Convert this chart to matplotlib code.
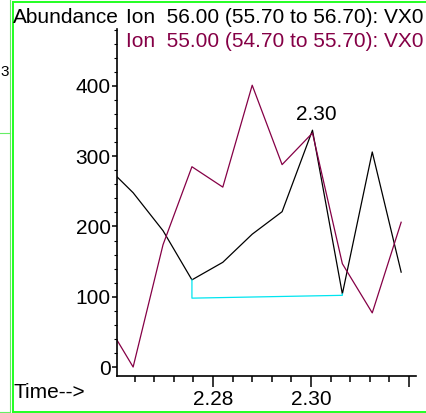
import matplotlib
matplotlib.use("Agg")
import matplotlib.pyplot as plt
from matplotlib.lines import Line2D
from matplotlib.ticker import MultipleLocator, FixedLocator

plt.rcParams['font.family'] = ['Liberation Sans', 'DejaVu Sans']

# ---- data ----
times = [2.2576, 2.2637, 2.2698, 2.2757, 2.2820, 2.2880, 2.2941, 2.3003, 2.3064, 2.3125, 2.3184]
ion56 = [290, 248, 194, 124, 149, 189, 221, 337, 104, 306, 135]
ion55 = [71, 0, 174, 285, 256, 401, 288, 333, 147, 77, 206]
baseline_t = [2.2757, 2.2757, 2.3064, 2.3064]
baseline_v = [124, 98, 102, 104]
peak_t = 2.3003
peak_v = 337
peak_label = "2.30"
title1 = "Ion  56.00 (55.70 to 56.70): VX0"
title2 = "Ion  55.00 (54.70 to 55.70): VX0"
xmajor = [2.28, 2.30, 2.32]
xmajor_labels = ["2.28", "2.30", ""]
ymajor = [0, 100, 200, 300, 400]

W, H = 426, 413
DPI = 100
fig = plt.figure(figsize=(W / DPI, H / DPI), dpi=DPI)
fig.patch.set_facecolor('white')

def fx(px):
    return px / W

def fy(py):
    return 1 - py / H

FS = 15.0
MAG = '#850046'

ax = fig.add_axes([fx(117), fy(376), fx(416) - fx(117), fy(29) - fy(376)])
ax.set_xlim(2.28 - 96 / 4900, 2.32 + 7 / 4900)
ax.set_ylim(-12.8, 481)

ax.plot(times, ion56, color='black', lw=0.9)
ax.plot(times, ion55, color=MAG, lw=0.9)
ax.plot(baseline_t, baseline_v, color='#00E5F0', lw=0.9)

ax.annotate(peak_label, xy=(peak_t, peak_v), xytext=(4, 6), textcoords='offset pixels',
            ha='center', va='bottom', fontsize=FS, color='black')

for s in ['top', 'right']:
    ax.spines[s].set_visible(False)
for s in ['left', 'bottom']:
    ax.spines[s].set_linewidth(1.2)

ax.xaxis.set_major_locator(FixedLocator(xmajor))
ax.set_xticklabels(xmajor_labels)
ax.xaxis.set_minor_locator(MultipleLocator(0.004))
ax.yaxis.set_major_locator(FixedLocator(ymajor))
ax.yaxis.set_minor_locator(MultipleLocator(20))

ax.tick_params(axis='x', which='major', length=8, width=1.1, pad=2, labelsize=FS)
ax.tick_params(axis='x', which='minor', length=4.5, width=1.1)
ax.tick_params(axis='y', which='major', length=3.5, width=1.1, pad=1, labelsize=FS)
ax.tick_params(axis='y', which='minor', length=2, width=0.8)

# header texts
fig.text(fx(13), fy(23), "Abundance", fontsize=FS, ha='left', va='baseline')
fig.text(fx(126), fy(23), title1, fontsize=FS, ha='left', va='baseline', color='black')
fig.text(fx(126), fy(47), title2, fontsize=FS, ha='left', va='baseline', color=MAG)
fig.text(fx(13), fy(398), "Time-->", fontsize=FS, ha='left', va='baseline')

# neighbouring panel fragment (kept fully inside the picture)
fig.text(fx(0.5), fy(72), "3", fontsize=11, ha='left', va='center')

# green frames
def fline(xs, ys, **kw):
    fig.add_artist(Line2D([fx(x) for x in xs], [fy(y) for y in ys], transform=fig.transFigure, **kw))

fline([10, 10], [0, 411.5], color='#66ee66', lw=0.8)
fline([0, 10], [133, 133], color='#66ee66', lw=0.8)
fline([0, 10], [411.5, 411.5], color='#66ee66', lw=0.8)
fline([12.5, 12.5], [2, 412], color='#22ff22', lw=1.4)
fline([12.5, 430], [2, 2], color='#22ff22', lw=1.4)
fline([12.5, 430], [411.5, 411.5], color='#22ff22', lw=1.4)

fig.savefig("out.png", dpi=DPI)
